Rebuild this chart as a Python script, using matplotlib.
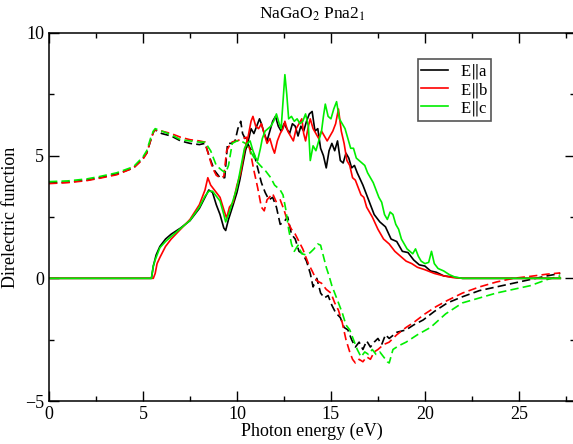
import matplotlib
matplotlib.use("Agg")
import matplotlib.pyplot as plt
from matplotlib.ticker import MultipleLocator

plt.rcParams['font.family'] = ['Liberation Serif', 'DejaVu Serif']
plt.rcParams['mathtext.fontset'] = 'stix'

# Imaginary part (solid lines): (energy eV, value)
im_a = [(0, 0), (5.45, 0), (5.55, 0.5), (5.7, 0.95), (5.9, 1.3), (6.2, 1.6), (6.5, 1.8),
        (7.0, 2.05), (7.5, 2.35), (8.0, 2.85), (8.3, 3.3), (8.5, 3.6), (8.7, 3.5), (8.9, 3.0),
        (9.1, 2.6), (9.3, 2.05), (9.4, 1.95), (9.55, 2.4), (9.8, 3.0), (10.0, 3.5), (10.15, 4.0),
        (10.3, 4.6), (10.45, 5.2), (10.6, 5.6), (10.75, 6.1), (10.9, 5.9), (11.05, 6.2),
        (11.2, 6.5), (11.3, 6.3), (11.45, 5.9), (11.6, 5.6), (11.75, 6.0), (11.9, 6.4),
        (12.05, 6.6), (12.2, 6.2), (12.35, 6.0), (12.5, 6.3), (12.65, 6.1), (12.8, 5.9),
        (12.95, 6.3), (13.1, 6.2), (13.25, 5.8), (13.4, 6.2), (13.55, 6.0), (13.7, 6.4),
        (13.85, 6.7), (14.0, 6.8), (14.15, 6.0), (14.3, 6.1), (14.45, 5.3), (14.6, 5.0),
        (14.75, 4.5), (14.9, 5.2), (15.05, 5.5), (15.2, 5.2), (15.35, 5.6), (15.5, 4.8),
        (15.65, 4.7), (15.8, 5.1), (15.95, 4.9), (16.1, 4.5), (16.25, 4.6), (16.4, 4.3),
        (16.7, 3.8), (17.0, 3.2), (17.3, 2.6), (17.6, 2.3), (17.9, 2.1), (18.2, 1.6),
        (18.5, 1.5), (18.8, 1.1), (19.1, 1.05), (19.4, 0.75), (19.7, 0.55), (20.0, 0.5),
        (20.3, 0.3), (20.6, 0.25), (21.0, 0.1), (21.5, 0.05), (22.0, 0.0), (27.2, 0.0)]

im_b = [(0, 0), (5.55, 0), (5.65, 0.2), (5.75, 0.6), (5.9, 0.85), (6.2, 1.3), (6.5, 1.6),
        (7.0, 2.0), (7.5, 2.4), (8.0, 3.0), (8.3, 3.6), (8.45, 4.1), (8.6, 3.8), (8.9, 3.5),
        (9.1, 3.3), (9.3, 2.8), (9.45, 2.45), (9.6, 2.9), (9.8, 3.1), (10.0, 3.8), (10.2, 4.3),
        (10.4, 5.2), (10.6, 5.8), (10.75, 6.4), (10.85, 6.6), (11.0, 6.2), (11.15, 6.1),
        (11.3, 6.3), (11.45, 5.9), (11.6, 5.5), (11.75, 5.7), (11.9, 5.3), (12.0, 5.1),
        (12.15, 5.6), (12.3, 5.9), (12.45, 6.1), (12.55, 6.4), (12.7, 6.0), (12.85, 5.8),
        (13.0, 5.6), (13.15, 6.1), (13.3, 6.3), (13.45, 6.5), (13.55, 5.9), (13.65, 5.6),
        (13.8, 6.2), (13.9, 6.5), (14.05, 6.1), (14.2, 5.9), (14.35, 5.7), (14.5, 6.0),
        (14.65, 5.8), (14.8, 5.6), (14.95, 5.8), (15.1, 6.0), (15.25, 6.3), (15.4, 6.9),
        (15.55, 6.0), (15.7, 5.5), (15.85, 4.8), (16.0, 4.6), (16.15, 4.1), (16.3, 4.0),
        (16.45, 3.7), (16.6, 3.4), (16.75, 3.3), (16.9, 2.9), (17.05, 2.7), (17.2, 2.5),
        (17.5, 2.0), (17.8, 1.6), (18.1, 1.4), (18.4, 1.1), (18.7, 0.9), (19.0, 0.7),
        (19.3, 0.6), (19.6, 0.45), (20.0, 0.35), (20.5, 0.2), (21.0, 0.1), (21.5, 0.03),
        (22.0, 0.0), (27.2, 0.0)]

im_c = [(0, 0), (5.45, 0), (5.55, 0.5), (5.65, 0.75), (5.9, 1.25), (6.2, 1.5), (6.45, 1.67),
        (7.0, 2.03), (7.5, 2.36), (8.0, 2.9), (8.3, 3.35), (8.5, 3.55), (8.7, 3.55), (8.9, 3.35),
        (9.1, 3.15), (9.3, 2.6), (9.4, 2.3), (9.6, 2.7), (9.8, 3.2), (10.0, 3.7), (10.2, 4.5),
        (10.4, 5.3), (10.55, 5.5), (10.7, 5.6), (10.85, 5.2), (11.0, 4.9), (11.1, 4.8),
        (11.25, 5.3), (11.35, 5.7), (11.5, 6.0), (11.65, 6.1), (11.8, 6.2), (11.95, 6.4),
        (12.1, 6.7), (12.25, 6.3), (12.35, 6.1), (12.45, 7.2), (12.55, 8.3), (12.65, 7.5),
        (12.75, 6.5), (12.9, 6.6), (13.05, 6.4), (13.2, 6.5), (13.35, 6.3), (13.5, 6.4),
        (13.65, 6.7), (13.8, 6.2), (13.9, 4.8), (14.05, 5.4), (14.2, 5.2), (14.35, 5.6),
        (14.5, 6.0), (14.6, 6.6), (14.7, 7.1), (14.85, 6.6), (15.0, 6.5), (15.15, 6.9),
        (15.3, 7.2), (15.45, 6.5), (15.6, 6.3), (15.75, 6.1), (15.9, 5.7), (16.05, 5.3),
        (16.2, 5.3), (16.35, 4.9), (16.5, 4.8), (16.65, 4.7), (16.8, 4.6), (16.95, 4.3),
        (17.1, 4.1), (17.25, 3.9), (17.4, 3.6), (17.55, 3.3), (17.7, 3.1), (17.85, 2.6),
        (18.0, 2.4), (18.15, 2.7), (18.3, 2.6), (18.45, 2.2), (18.6, 2.0), (18.75, 1.6),
        (18.9, 1.4), (19.05, 1.2), (19.2, 1.1), (19.35, 1.0), (19.5, 1.2), (19.65, 0.9),
        (19.8, 0.7), (20.0, 0.6), (20.2, 0.65), (20.35, 1.1), (20.5, 0.6), (20.7, 0.4),
        (21.0, 0.3), (21.3, 0.15), (21.6, 0.05), (22.0, 0.0), (27.2, 0.0)]

# Real part (dashed lines)
re_a = [(0, 3.88), (1.0, 3.92), (2.0, 4.0), (2.7, 4.1), (3.6, 4.25), (4.5, 4.5), (5.0, 4.9),
        (5.2, 5.1), (5.4, 5.6), (5.55, 5.95), (5.65, 6.05), (6.0, 5.9), (6.5, 5.8), (7.0, 5.6),
        (7.5, 5.5), (8.0, 5.45), (8.3, 5.5), (8.56, 4.9), (8.8, 4.4), (9.1, 4.1), (9.35, 4.1),
        (9.5, 5.5), (9.7, 5.5), (9.9, 5.6), (10.05, 6.1), (10.2, 6.4), (10.3, 5.9), (10.5, 5.6),
        (10.7, 5.3), (10.9, 5.1), (11.1, 4.5), (11.3, 3.9), (11.5, 3.5), (11.7, 3.2),
        (11.9, 3.3), (12.1, 2.9), (12.3, 2.2), (12.5, 2.3), (12.7, 2.5), (12.9, 1.8),
        (13.1, 1.6), (13.3, 1.1), (13.5, 1.0), (13.7, 0.7), (13.9, 0.2), (14.05, -0.35),
        (14.25, 0.0), (14.45, -0.6), (14.65, -0.8), (14.85, -0.7), (15.05, -1.1),
        (15.25, -1.4), (15.5, -1.6), (15.7, -2.0), (15.9, -2.1), (16.1, -2.5), (16.3, -2.8),
        (16.5, -2.6), (16.7, -2.9), (16.9, -2.55), (17.1, -2.8), (17.3, -2.6), (17.5, -2.45),
        (17.7, -2.7), (17.9, -2.3), (18.1, -2.45), (18.5, -2.2), (19.0, -2.1), (19.4, -1.9),
        (19.9, -1.7), (20.5, -1.35), (21.2, -1.0), (22.0, -0.75), (22.9, -0.5), (23.8, -0.35),
        (24.7, -0.2), (25.6, -0.05), (26.5, 0.1), (27.2, 0.2)]

re_b = [(0, 3.86), (1.0, 3.9), (2.0, 3.98), (2.7, 4.08), (3.6, 4.22), (4.5, 4.5), (5.0, 4.85),
        (5.2, 5.1), (5.4, 5.6), (5.55, 5.95), (5.65, 6.05), (6.0, 6.0), (6.5, 5.9), (7.0, 5.75),
        (7.5, 5.65), (8.0, 5.6), (8.3, 5.55), (8.5, 5.0), (8.7, 4.5), (8.9, 4.2), (9.1, 4.1),
        (9.3, 4.15), (9.45, 5.2), (9.7, 5.55), (10.0, 5.6), (10.3, 5.7), (10.5, 5.75),
        (10.7, 5.2), (10.9, 4.4), (11.1, 3.7), (11.3, 2.9), (11.45, 2.75), (11.6, 3.2),
        (11.9, 3.45), (12.1, 3.1), (12.3, 3.2), (12.5, 2.8), (12.7, 2.3), (12.9, 2.0),
        (13.1, 1.8), (13.3, 1.5), (13.5, 1.2), (13.8, 0.6), (14.0, 0.3), (14.25, -0.1),
        (14.5, -0.2), (14.75, -0.45), (15.0, -0.6), (15.2, -1.0), (15.4, -1.3), (15.6, -1.8),
        (15.8, -2.5), (16.0, -3.0), (16.15, -3.3), (16.3, -3.45), (16.5, -3.3), (16.7, -3.4),
        (16.9, -3.2), (17.1, -3.3), (17.3, -3.0), (17.5, -2.9), (17.8, -2.7), (18.1, -2.6),
        (18.5, -2.3), (19.0, -2.0), (19.4, -1.8), (20.0, -1.45), (20.6, -1.15), (21.2, -0.9),
        (22.0, -0.6), (22.9, -0.35), (23.8, -0.15), (24.7, 0.0), (25.6, 0.08), (26.5, 0.17),
        (27.2, 0.22)]

re_c = [(0, 3.94), (1.0, 3.97), (2.0, 4.05), (2.7, 4.15), (3.6, 4.3), (4.5, 4.55), (5.0, 4.95),
        (5.2, 5.2), (5.4, 5.7), (5.55, 6.0), (5.65, 6.1), (6.0, 6.0), (6.5, 5.85), (7.0, 5.65),
        (7.5, 5.6), (8.0, 5.55), (8.3, 5.55), (8.6, 5.2), (8.9, 4.6), (9.2, 4.4), (9.4, 4.3),
        (9.55, 4.6), (9.75, 5.5), (10.0, 5.6), (10.2, 5.6), (10.45, 5.5), (10.7, 5.2),
        (11.0, 4.8), (11.3, 4.55), (11.5, 4.4), (11.8, 4.1), (12.0, 3.8), (12.3, 3.6),
        (12.45, 3.4), (12.6, 2.8), (12.75, 2.0), (12.9, 1.4), (13.05, 1.1), (13.25, 1.35),
        (13.45, 1.0), (13.7, 0.95), (13.9, 1.05), (14.1, 1.2), (14.3, 1.4), (14.45, 1.35),
        (14.6, 0.9), (14.75, 0.45), (14.9, 0.1), (15.05, -0.3), (15.2, -0.6), (15.4, -1.0),
        (15.6, -1.4), (15.8, -1.9), (16.0, -2.1), (16.2, -2.5), (16.4, -2.9), (16.6, -3.2),
        (16.8, -3.0), (17.0, -3.1), (17.2, -2.9), (17.4, -3.1), (17.6, -3.0), (17.8, -3.2),
        (18.0, -3.4), (18.1, -3.45), (18.3, -2.9), (18.6, -2.75), (19.0, -2.6), (19.6, -2.3),
        (20.3, -2.0), (21.1, -1.45), (22.0, -1.0), (22.9, -0.8), (23.8, -0.6), (24.7, -0.45),
        (25.6, -0.3), (26.5, -0.05), (27.2, 0.1)]

labels = [r"E$\Vert$a", r"E$\Vert$b", r"E$\Vert$c"]
colors = ["black", "red", "#00ee00"]


def split(pairs):
    return [p[0] for p in pairs], [p[1] for p in pairs]


fig = plt.figure(figsize=(5.73, 4.44), dpi=100)
ax = fig.add_axes([0.0855, 0.0968, 0.9185, 0.829])

for series, c in zip([re_a, re_b, re_c], colors):
    x, y = split(series)
    ax.plot(x, y, color=c, lw=1.2, linestyle=(0, (5, 2.5)))
for series, c, lab in zip([im_a, im_b, im_c], colors, labels):
    x, y = split(series)
    ax.plot(x, y, color=c, lw=1.2, label=lab)

ax.set_xlim(0, 28)
ax.set_ylim(-5, 10)
ax.xaxis.set_major_locator(MultipleLocator(5))
ax.xaxis.set_minor_locator(MultipleLocator(2.5))
ax.yaxis.set_major_locator(MultipleLocator(5))
ax.yaxis.set_minor_locator(MultipleLocator(2.5))
ax.tick_params(which="both", direction="in", top=True, right=True, labelsize=13)
ax.tick_params(which="major", length=7, width=1)
ax.tick_params(which="minor", length=3.5, width=1)
for s in ax.spines.values():
    s.set_linewidth(1.1)

ax.set_xlabel("Photon energy (eV)", fontsize=13, labelpad=0)
ax.set_ylabel("Direlectric function", fontsize=13, labelpad=4)
ax.set_title(r"NaGaO$_2$ Pna2$_1$", fontsize=12.5, pad=10)

leg = ax.legend(loc="upper left", bbox_to_anchor=(0.701, 0.929), fontsize=12,
                fancybox=False, framealpha=1, edgecolor="#555555", borderaxespad=0,
                handlelength=1.6, borderpad=0.2, labelspacing=-0.05, handletextpad=0.7)
leg.get_frame().set_linewidth(1.2)

fig.savefig("out.png", dpi=100)
